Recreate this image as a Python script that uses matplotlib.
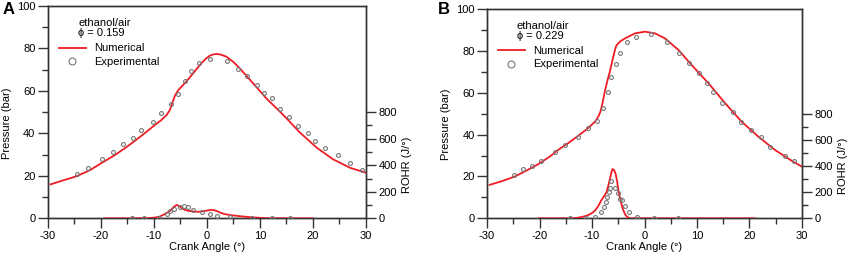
import numpy as np
import matplotlib
matplotlib.use("Agg")
import matplotlib.pyplot as plt
from matplotlib.ticker import MultipleLocator
from matplotlib.lines import Line2D

# -------------------------------------------------
# DATA
# -------------------------------------------------
# panel A, phi = 0.159
a_p_num_x = [-29.5, -27, -24.6, -22, -20.2, -17.5, -15.2, -12.5, -10.2, -8.6, -7.6, -7.0,
             -6.6, -6.0, -5.4, -3.9, -2.5, -1.35, -0.3, 0.54, 1.2, 1.8, 2.6, 3.7, 5.0,
             6.2, 8.7, 11.2, 14.4, 17.5, 20.7, 23.8, 27.0, 30.0]
a_p_num_y = [16.0, 18.0, 19.8, 22.8, 25.6, 29.6, 33.5, 38.6, 43.2, 46.3, 48.7, 51.0,
             54.0, 58.0, 60.4, 64.4, 68.6, 72.2, 75.0, 76.6, 77.2, 77.4, 77.1, 76.1, 73.6,
             70.6, 63.6, 56.5, 48.7, 40.5, 33.3, 27.8, 23.8, 21.5]
a_p_exp_x = [-24.6, -22.4, -19.9, -17.7, -15.8, -13.9, -12.4, -10.2, -8.6, -6.7, -5.4,
             -4.2, -3.0, -1.5, 0.5, 3.7, 5.9, 7.6, 9.5, 10.8, 12.2, 13.8, 15.5, 17.2,
             19.1, 20.3, 22.3, 24.8, 27.0, 29.2]
a_p_exp_y = [20.7, 23.9, 27.8, 31.4, 34.9, 37.7, 41.6, 45.5, 49.8, 53.8, 58.6,
             64.8, 69.2, 73.0, 75.0, 74.3, 70.5, 67.0, 62.8, 59.2, 56.5, 51.5, 47.6, 43.5,
             40.0, 36.6, 33.3, 29.7, 26.2, 22.8]
a_r_num_x = [-19.3, -14, -11, -10, -9.0, -8.3, -7.0, -6.3, -5.7, -5.2, -4.8, -4.2, -3.5,
             -2.5, -1.8, -1.0, -0.1, 0.7, 1.2, 1.8, 2.4, 3.2, 4.3, 6.2, 8.7, 11.2, 15, 20]
a_r_num_y = [0, 0, 2, 5, 12, 25, 55, 85, 101, 92, 78, 65, 56, 52, 49, 52, 58, 63, 62, 56,
             45, 33, 25, 16, 7, 1, 0, 0]
a_r_exp_x = [-14.1, -11.8, -9.1, -7.6, -6.9, -6.2, -5.1, -4.3, -3.5, -2.7, -1.0, 0.5,
             1.8, 4.3, 8.5, 12.2, 15.6]
a_r_exp_y = [0, 0, 6, 32, 55, 68, 87, 96, 84, 63, 51, 36, 18, 10, 5, 0, 0]

# panel B, phi = 0.229
b_p_num_x = [-29.5, -27, -24.7, -22.5, -20.3, -18, -16.5, -14.5, -12.6, -11.2, -10.1,
             -9.4, -8.8, -8.4, -8.0, -7.5, -7.0, -6.6, -6.2, -5.8, -5.5, -5.3, -4.6,
             -3.7, -1.8, 0.1, 2.0, 3.9, 6.5, 9.0, 12.2, 15.4, 18.5, 21.7, 24.9, 28.1, 30.0]
b_p_num_y = [16.0, 17.9, 20.0, 22.8, 25.8, 29.6, 32.6, 36.0, 39.5, 42.2, 44.6,
             46.3, 48.6, 51.0, 55.0, 61.3, 66.5, 70.1, 74.5, 78.8, 81.6, 82.8, 84.6,
             86.0, 88.4, 89.2, 88.4, 86.0, 80.4, 73.2, 64.5, 54.9, 46.2, 39.0, 32.6,
             27.4, 24.7]
b_p_exp_x = [-24.9, -23.1, -21.4, -19.8, -17.0, -15.2, -12.6, -10.7, -9.1, -7.9, -7.0,
             -6.3, -5.4, -4.6, -3.4, -1.7, 1.2, 4.2, 6.5, 8.4, 10.4, 11.9, 13.0, 14.7,
             16.8, 18.4, 20.3, 22.2, 24.0, 26.7, 28.5]
b_p_exp_y = [20.9, 23.4, 25.1, 27.4, 31.7, 35.0, 39.0, 43.3, 46.7, 52.9, 60.5,
             67.7, 73.6, 79.1, 84.4, 86.8, 87.9, 84.2, 79.0, 74.0, 69.3, 64.8, 60.2, 55.3,
             50.6, 46.0, 42.2, 38.7, 34.2, 29.9, 27.2]
b_r_num_x = [-20.1, -15, -13, -12.0, -11.0, -10.1, -9.4, -8.8, -8.2, -7.6, -7.2, -6.9,
             -6.6, -6.3, -6.1, -5.8, -5.5, -5.2, -5.0, -4.6, -4.2, -3.7, -3.2, -2.8, 5, 21]
b_r_num_y = [0, 0, 3, 10, 20, 38, 60, 95, 140, 175, 205, 250, 300, 350, 377, 370, 340,
             280, 220, 140, 80, 30, 8, 0, 0, 0]
b_r_exp_x = [-14.2, -11.2, -9.5, -8.2, -7.7, -7.4, -7.1, -6.8, -6.6, -6.4, -5.6, -5.1,
             -4.6, -4.2, -3.7, -3.0, -1.5, 1.8, 6.3]
b_r_exp_y = [0, 0, 10, 50, 89, 127, 165, 203, 234, 285, 234, 191, 145, 140, 94, 50, 12,
             4, 0]

panels = [
    ("A", "\u03d5 = 0.159", a_p_num_x, a_p_num_y, a_p_exp_x, a_p_exp_y,
     a_r_num_x, a_r_num_y, a_r_exp_x, a_r_exp_y),
    ("B", "\u03d5 = 0.229", b_p_num_x, b_p_num_y, b_p_exp_x, b_p_exp_y,
     b_r_num_x, b_r_num_y, b_r_exp_x, b_r_exp_y),
]

# -------------------------------------------------
# FIGURE
# -------------------------------------------------
plt.rcParams['font.family'] = ['Liberation Sans', 'DejaVu Sans']
plt.rcParams['axes.unicode_minus'] = False
RED = "#ee1c25"
GREY = "#777777"
SPINE = "#333333"

fig = plt.figure(figsize=(8.51, 2.59), dpi=100)
boxes = [[0.0564, 0.157, 0.3736, 0.820], [0.5723, 0.157, 0.3701, 0.808]]
letter_x = [0.003, 0.515]

for (letter, phi, pnx, pny, pex, pey, rnx, rny, rex, rey), box, lx in zip(panels, boxes, letter_x):
    ax = fig.add_axes(box)
    ax2 = ax.twinx()

    ax.plot(pnx, pny, color=RED, lw=1.3, zorder=3)
    ax.plot(pex, pey, ls="none", marker="o", ms=2.8, mfc="none", mec=GREY, mew=0.8, zorder=4)
    ax2.plot(rnx, rny, color=RED, lw=1.3, zorder=3)
    ax2.plot(rex, rey, ls="none", marker="o", ms=2.8, mfc="none", mec=GREY, mew=0.8, zorder=4)

    ax.set_xlim(-30, 30)
    ax.set_ylim(0, 100)
    ax2.set_ylim(0, 1600)

    ax.xaxis.set_major_locator(MultipleLocator(10))
    ax.xaxis.set_minor_locator(MultipleLocator(5))
    ax.yaxis.set_major_locator(MultipleLocator(20))
    ax.yaxis.set_minor_locator(MultipleLocator(10))
    ax2.set_yticks([0, 200, 400, 600, 800])
    ax2.set_yticks([100, 300, 500, 700], minor=True)

    for a in (ax, ax2):
        a.tick_params(which="major", direction="out", length=7, width=1, color=SPINE,
                      labelsize=8, pad=2)
        a.tick_params(which="minor", direction="out", length=4, width=1, color=SPINE)
        for s in a.spines.values():
            s.set_color(SPINE)
            s.set_linewidth(1)

    ax.set_xlabel("Crank Angle (\u00b0)", fontsize=8, labelpad=1)
    ax.set_ylabel("Pressure (bar)", fontsize=8)
    ax.yaxis.set_label_coords(-0.113, 0.45)
    ax2.set_ylabel("ROHR (J/\u00b0)", fontsize=8)
    ax2.yaxis.set_label_coords(1.113, 0.25)

    ax.text(0.095, 0.92, "ethanol/air", transform=ax.transAxes, fontsize=8, va="center")
    ax.text(0.095, 0.872, phi, transform=ax.transAxes, fontsize=8, va="center")
    handles = [Line2D([], [], color=RED, lw=1.3),
               Line2D([], [], ls="none", marker="o", ms=5, mfc="none", mec=GREY, mew=0.8)]
    ax.legend(handles, ["Numerical", "Experimental"], loc="upper left",
              bbox_to_anchor=(0.01, 0.86), frameon=False, fontsize=8,
              handlelength=2.4, handletextpad=0.8, labelspacing=0.3, borderaxespad=0.3)

    fig.text(lx, 0.965, letter, fontsize=12, fontweight="bold", va="center")

fig.savefig("out.png", dpi=100)
